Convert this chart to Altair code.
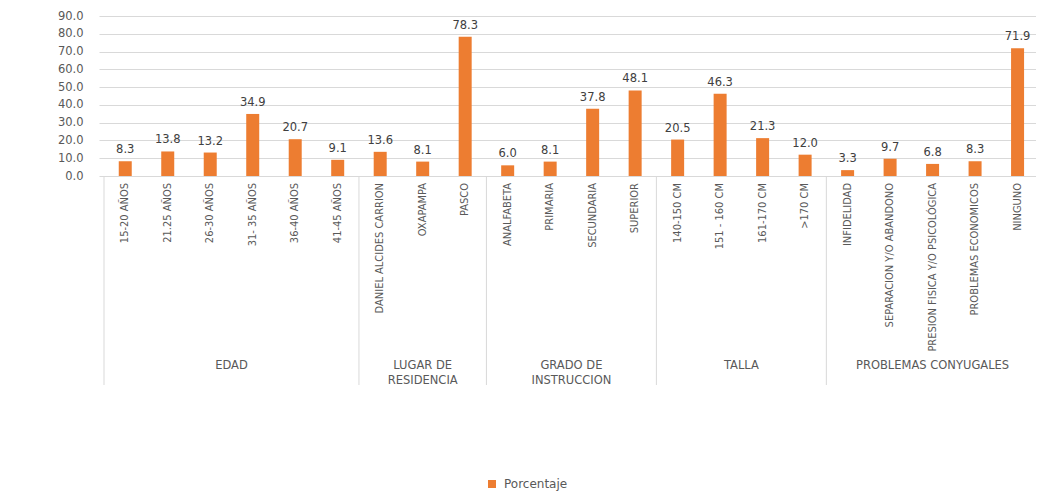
import altair as alt
import pandas as pd

# ---- data ----
group_names = ["EDAD", "LUGAR DE\nRESIDENCIA", "GRADO DE\nINSTRUCCION", "TALLA", "PROBLEMAS CONYUGALES"]

edad_labels = ["15-20 AÑOS", "21.25 AÑOS", "26-30 AÑOS", "31- 35 AÑOS", "36-40 AÑOS", "41-45 AÑOS"]
edad_values = [8.3, 13.8, 13.2, 34.9, 20.7, 9.1]

lugar_labels = ["DANIEL ALCIDES CARRION", "OXAPAMPA", "PASCO"]
lugar_values = [13.6, 8.1, 78.3]

grado_labels = ["ANALFABETA", "PRIMARIA", "SECUNDARIA", "SUPERIOR"]
grado_values = [6.0, 8.1, 37.8, 48.1]

talla_labels = ["140-150 CM", "151 - 160 CM", "161-170 CM", ">170 CM"]
talla_values = [20.5, 46.3, 21.3, 12.0]

prob_labels = ["INFIDELIDAD", "SEPARACION Y/O ABANDONO", "PRESION FISICA Y/O PSICOLÓGICA",
               "PROBLEMAS ECONOMICOS", "NINGUNO"]
prob_values = [3.3, 9.7, 6.8, 8.3, 71.9]

y_ticks = [0, 10, 20, 30, 40, 50, 60, 70, 80, 90]
series_name = "Porcentaje"

# ---- tables ----
all_labels = [edad_labels, lugar_labels, grado_labels, talla_labels, prob_labels]
all_values = [edad_values, lugar_values, grado_values, talla_values, prob_values]

rows = []
grows = []
idx = 0
for g, labs, vals in zip(group_names, all_labels, all_values):
    start = idx
    for lab, v in zip(labs, vals):
        rows.append({"cat": lab, "pos": idx + 0.5, "val": v, "grupo": g, "serie": series_name})
        idx += 1
    grows.append({"grupo": g, "start": start, "mid": (start + idx) / 2})
df = pd.DataFrame(rows)
gdf = pd.DataFrame(grows)

BAND = 42.95
W = 937
H = 160

xscale = alt.Scale(domain=[0, W / BAND], nice=False, zero=False)
yscale = alt.Scale(domain=[0, 90], nice=False)

ORANGE = "#ED7D31"
GRAY = "#595959"
FONT = "DejaVu Sans"
NARROW = "Liberation Sans Narrow, DejaVu Sans Condensed, Roboto Condensed, Liberation Sans"

base = alt.Chart(df)

bars = base.mark_bar(size=13).encode(
    x=alt.X("pos:Q", scale=xscale, axis=None),
    y=alt.Y("val:Q", scale=yscale,
            axis=alt.Axis(values=y_ticks, tickCount=10, format=".1f", title=None, domain=False,
                          ticks=False, labelOverlap=False,
                          labelColor=GRAY, labelFont=FONT, labelFontSize=11.5, labelPadding=16,
                          gridColor="#d9d9d9", gridWidth=1)),
    color=alt.Color("serie:N", scale=alt.Scale(range=[ORANGE]),
                    legend=alt.Legend(title=None, orient="none", legendX=387, legendY=462,
                                      symbolType="square", symbolSize=64, symbolStrokeWidth=0,
                                      labelFont=FONT, labelFontSize=12, labelColor=GRAY,
                                      labelOffset=6, padding=0)),
)

vlabels = base.mark_text(baseline="bottom", dy=-6, font=FONT, fontSize=11.5, color="#404040").encode(
    x=alt.X("pos:Q", scale=xscale),
    y=alt.Y("val:Q", scale=yscale),
    text=alt.Text("val:Q", format=".1f"),
)

catlabels = base.mark_text(angle=270, align="right", baseline="middle", font=NARROW,
                           fontSize=11, color=GRAY).encode(
    x=alt.X("pos:Q", scale=xscale),
    y=alt.value(H + 7),
    text="cat:N",
)

gbase = alt.Chart(gdf)
seps = gbase.mark_rule(color="#d9d9d9", strokeWidth=1).encode(
    x=alt.X("start:Q", scale=xscale),
    y=alt.value(H),
    y2=alt.value(369),
)

glabels = gbase.mark_text(baseline="top", align="center", font=FONT, fontSize=11.5,
                          color=GRAY, lineBreak="\n", lineHeight=15).encode(
    x=alt.X("mid:Q", scale=xscale),
    y=alt.value(344),
    text="grupo:N",
)

chart = alt.layer(bars, vlabels, catlabels, seps, glabels).properties(
    width=W, height=H,
    autosize=alt.AutoSizeParams(type="none"),
    padding={"left": 91, "top": 8, "right": 0, "bottom": 316},
    background="white",
).configure_view(strokeWidth=0)

chart.save("out.html", embed_options={"renderer": "svg", "actions": False})
